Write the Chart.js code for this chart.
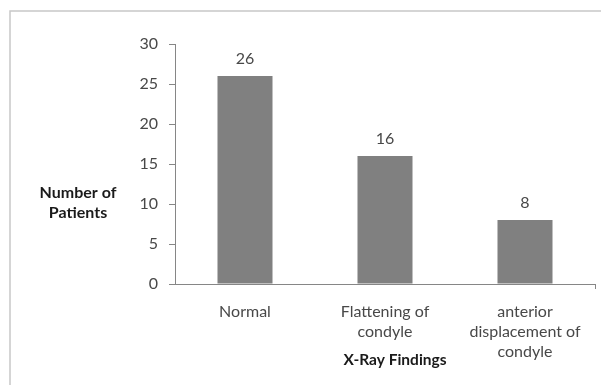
<!DOCTYPE html>
<html>
<head>
<meta charset="utf-8">
<script src="https://cdn.jsdelivr.net/npm/chart.js@4/dist/chart.umd.min.js"></script>
<style>
  html, body { margin: 0; padding: 0; background: #fff; }
  #wrap { width: 601px; height: 385px; position: relative; }
</style>
</head>
<body>
<div id="wrap"><canvas id="c" width="601" height="385"></canvas></div>
<script>
const categories = [["Normal"], ["Flattening of", "condyle"], ["anterior", "displacement of", "condyle"]];
const patients = [26, 16, 8];
const yTicks = [0, 5, 10, 15, 20, 25, 30];
const yTitle = ["Number of", "Patients"];
const xTitle = "X-Ray Findings";

const FONT = "Lato, 'Open Sans', sans-serif";
const TEXT = "#484848";

const decor = {
  id: "decor",
  beforeDraw(chart) {
    const ctx = chart.ctx;
    ctx.save();
    ctx.strokeStyle = "#c8c8c8";
    ctx.lineWidth = 1.5;
    ctx.beginPath();
    ctx.moveTo(10, 385);
    ctx.lineTo(10, 11);
    ctx.lineTo(601, 11);
    ctx.stroke();
    ctx.restore();
  },
  afterDatasetsDraw(chart) {
    const ctx = chart.ctx;
    const meta = chart.getDatasetMeta(0);
    ctx.save();
    ctx.fillStyle = TEXT;
    ctx.font = "16px " + FONT;
    ctx.textAlign = "center";
    ctx.textBaseline = "middle";
    meta.data.forEach((bar, i) => {
      ctx.fillText(String(patients[i]), bar.x, bar.y - 17);
    });
    // right end tick of the category axis
    const a = chart.chartArea;
    ctx.strokeStyle = "#868686";
    ctx.lineWidth = 1;
    ctx.beginPath();
    ctx.moveTo(a.right + 0.5, a.bottom);
    ctx.lineTo(a.right + 0.5, a.bottom + 5);
    ctx.stroke();

    ctx.fillStyle = "#1a1a1a";
    ctx.font = "bold 16px " + FONT;
    ctx.fillText(yTitle[0], 78, 193);
    ctx.fillText(yTitle[1], 78, 213);
    ctx.font = "bold 15.5px " + FONT;
    ctx.fillText(xTitle, 395, 360);
    ctx.restore();
  }
};

new Chart(document.getElementById("c"), {
  type: "bar",
  data: {
    labels: categories,
    datasets: [{
      data: patients,
      backgroundColor: "#808080",
      borderWidth: 0,
      barPercentage: 0.393,
      categoryPercentage: 1.0
    }]
  },
  options: {
    responsive: false,
    animation: false,
    events: [],
    layout: { padding: { top: 44, right: 6, left: 0, bottom: 0 } },
    plugins: { legend: { display: false }, tooltip: { enabled: false } },
    scales: {
      x: {
        grid: { display: false },
        border: { display: true, color: "#868686", width: 1 },
        ticks: {
          color: TEXT,
          font: { family: FONT, size: 16, lineHeight: 1.25 },
          padding: 10,
          maxRotation: 0,
          autoSkip: false
        },
        afterFit(scale) { scale.height = 101; }
      },
      y: {
        min: 0,
        max: 30,
        afterBuildTicks(scale) { scale.ticks = yTicks.map(v => ({ value: v })); },
        grid: { drawOnChartArea: false, drawTicks: true, tickLength: 6, color: "#868686" },
        border: { display: true, color: "#868686", width: 1 },
        ticks: {
          color: TEXT,
          font: { family: FONT, size: 16 },
          padding: 11
        },
        afterFit(scale) { scale.width = 175; }
      }
    }
  },
  plugins: [decor]
});
</script>
</body>
</html>
